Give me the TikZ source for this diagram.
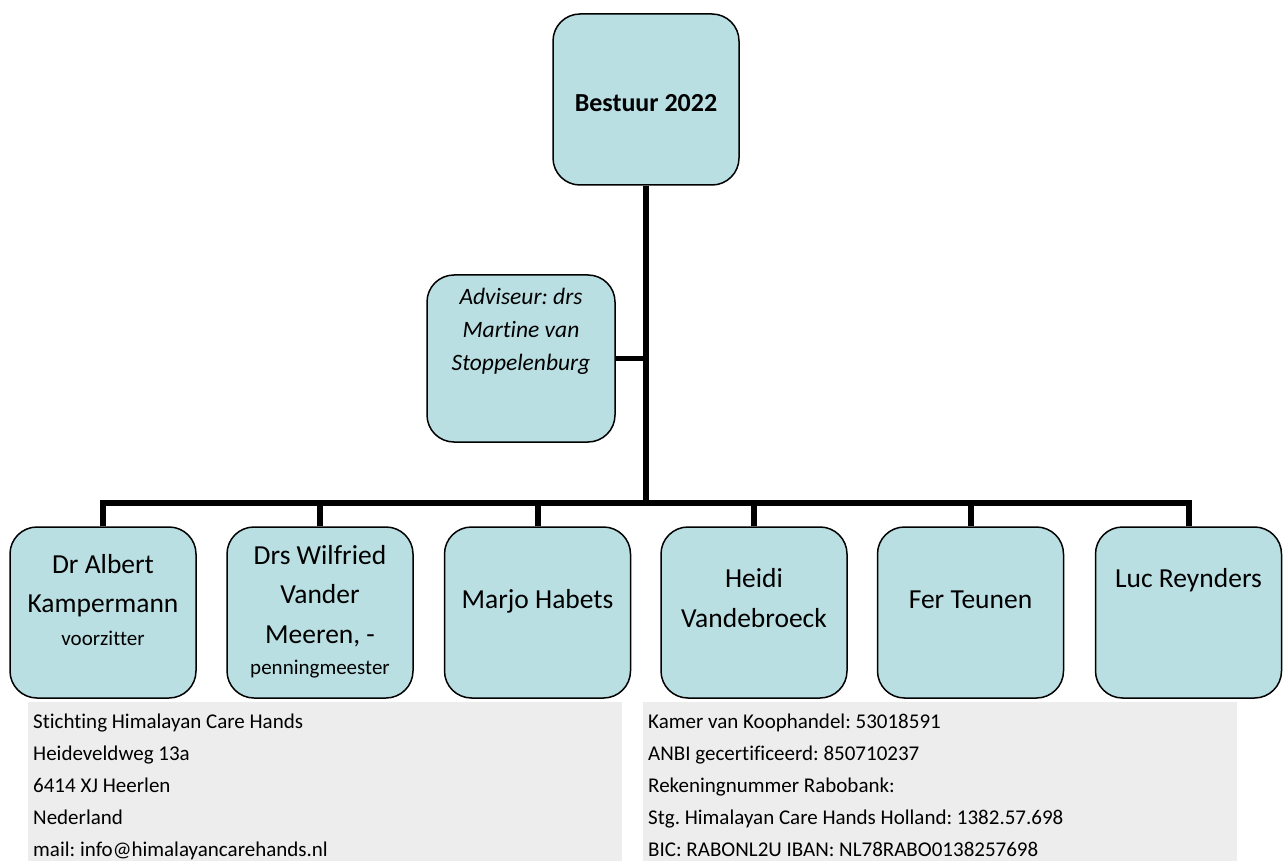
\documentclass[tikz,border=0pt]{standalone}
\usepackage{fontspec}
\setmainfont{Carlito}[Ligatures={NoCommon}]
\frenchspacing
\definecolor{boxfill}{RGB}{186,223,227}
\definecolor{footgray}{RGB}{237,237,237}
\tikzset{
  orgbox/.style={draw=black, line width=1.5pt, fill=boxfill, rounded corners=27pt, minimum width=186pt, minimum height=171pt, inner sep=0pt},
  conn/.style={draw=black, line width=6pt, line join=miter},
  nametxt/.style={anchor=base, inner sep=0pt, font=\fontsize{27.5}{33}\selectfont},
  roletxt/.style={anchor=base, inner sep=0pt, font=\fontsize{21}{25}\selectfont},
  advtxt/.style={anchor=base, inner sep=0pt, font=\fontsize{23.5}{28}\selectfont\itshape},
  foottxt/.style={anchor=base west, inner sep=0pt, font=\fontsize{21}{25}\selectfont},
  footbox/.style={fill=footgray, draw=none}
}
\begin{document}
\begin{tikzpicture}[x=1pt,y=-1pt]
\useasboundingbox (0,0) rectangle (1283,861);
% footer panels
\fill[footbox] (28,702) rectangle (622,861);
\fill[footbox] (643,702) rectangle (1237,861);
% boxes
\node[orgbox] (top) at (646,99.5) {};
\node[orgbox, minimum width=188pt, minimum height=167pt] (adv) at (521,358.5) {};
\node[orgbox] (b1) at (103,612.5) {};
\node[orgbox] (b2) at (320,612.5) {};
\node[orgbox] (b3) at (537.5,612.5) {};
\node[orgbox] (b4) at (754,612.5) {};
\node[orgbox] (b5) at (970.5,612.5) {};
\node[orgbox] (b6) at (1188.5,612.5) {};
% connectors
\coordinate (bus) at (646,503);
\draw[conn] (top.south) -- (bus);
\draw[conn, line width=5pt] (adv.east) -- (adv.east -| top.south);
\draw[conn] (b1.north) |- (bus) -| (b6.north);
\draw[conn] (b2.north) -- (b2.north |- bus);
\draw[conn] (b3.north) -- (b3.north |- bus);
\draw[conn] (b4.north) -- (b4.north |- bus);
\draw[conn] (b5.north) -- (b5.north |- bus);
% texts
\node[anchor=base, inner sep=0pt, font=\fontsize{26}{31}\selectfont\bfseries] (ttop) at (646,112) {Bestuur 2022};
\node[advtxt] (ta1) at (521,305) {Adviseur: drs};
\node[advtxt] (ta2) at (521,337) {Martine van};
\node[advtxt] (ta3) at (521,370) {Stoppelenburg};
\node[nametxt] (t1a) at (103,573) {Dr Albert};
\node[nametxt] (t1b) at (103,612) {Kampermann};
\node[roletxt] (t1c) at (103,645) {voorzitter};
\node[nametxt] (t2a) at (320,564) {Drs Wilfried};
\node[nametxt] (t2b) at (320,603) {Vander};
\node[nametxt] (t2c) at (320,643) {Meeren, -};
\node[roletxt] (t2d) at (320,674) {penningmeester};
\node[nametxt] (t3) at (537.5,608) {Marjo Habets};
\node[nametxt] (t4a) at (754,587) {Heidi};
\node[nametxt] (t4b) at (754,627) {Vandebroeck};
\node[nametxt] (t5) at (970.5,608) {Fer Teunen};
\node[nametxt] (t6) at (1188.5,587) {Luc Reynders};
% footer texts
\node[foottxt] (fl1) at (33,728) {Stichting Himalayan Care Hands};
\node[foottxt] (fl2) at (33,760) {Heideveldweg 13a};
\node[foottxt] (fl3) at (33,792.5) {6414 XJ Heerlen};
\node[foottxt] (fl4) at (33,824.5) {Nederland};
\node[foottxt] (fl5) at (33,856.5) {mail: info@himalayancarehands.nl};
\node[foottxt] (fr1) at (648,728) {Kamer van Koophandel: 53018591};
\node[foottxt] (fr2) at (648,760) {ANBI gecertificeerd: 850710237};
\node[foottxt] (fr3) at (648,792.5) {Rekeningnummer Rabobank:};
\node[foottxt] (fr4) at (648,824.5) {Stg. Himalayan Care Hands Holland: 1382.57.698};
\node[foottxt] (fr5) at (648,856.5) {BIC: RABONL2U IBAN: NL78RABO0138257698};
\end{tikzpicture}
\end{document}
